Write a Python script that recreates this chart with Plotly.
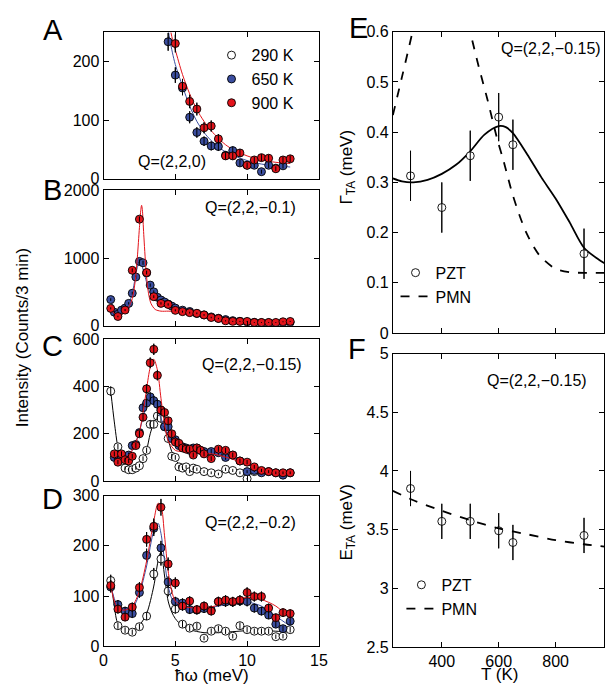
import plotly.graph_objects as go

# ---------------- data ----------------
# Panel A  Q=(2,2,0)
A_E_650 = [4.5, 5, 5.5, 6, 6.5, 7, 7.5, 8, 8.5, 9, 9.5, 10, 10.5, 11, 11.5, 12, 12.5]
A_I_650 = [234, 177, 155, 105, 79, 64, 56, 55, 40, 48, 27, 23, 23, 12, 23, 18, 22]
A_E_900 = [5, 5.5, 6, 6.5, 7, 7.5, 8, 8.5, 9, 9.5, 10, 10.5, 11, 11.5, 12, 12.5, 13]
A_I_900 = [231, 158, 132, 119, 87, 90, 68, 39, 39, 44, 23, 32, 36, 35, 17, 32, 34]
A_FIT_E = [4.4, 4.6, 4.8, 5.0, 5.5, 6, 6.5, 7, 7.5, 8, 8.5, 9, 10, 11, 12, 13]
A_FIT_650 = [272, 240, 215, 195, 158, 124, 98, 79, 65, 54, 46, 40, 31, 25, 22, 20]
A_FIT_900 = [300, 262, 238, 220, 178, 145, 118, 98, 82, 69, 58, 50, 39, 32, 28, 26]

# Panel B  Q=(2,2,-0.1)
B_E_650 = [0.5, 0.75, 1.0, 1.25, 1.5, 1.75, 2.0, 2.25, 2.5, 2.75, 3.0, 3.25, 3.5, 3.75, 4.0, 4.25,
           4.5, 4.75, 5.0, 5.5, 6.0, 6.5, 7.0, 7.5, 8.0, 8.5, 9.0, 9.5, 10, 10.5, 11, 11.5, 12, 12.5, 13]
B_I_650 = [386, 200, 170, 230, 260, 330, 480, 720, 950, 930, 780, 600, 500, 420, 380, 350,
           320, 290, 260, 230, 210, 180, 160, 130, 110, 90, 75, 65, 55, 50, 45, 45, 40, 45, 50]
B_E_900 = [0.5, 1, 1.5, 2, 2.5, 3, 3.5, 4, 4.5, 5, 5.5, 6, 6.5, 7, 7.5, 8, 8.5, 9, 9.5, 10,
           10.5, 11, 11.5, 12, 12.5, 13]
B_I_900 = [256, 136, 231, 819, 1575, 786, 429, 330, 314, 227, 208, 193, 183, 159, 121, 106,
           72, 63, 63, 63, 48, 48, 48, 48, 58, 63]
B_FIT_E = [0.5, 0.75, 1.0, 1.25, 1.5, 1.75, 2.0, 2.2, 2.35, 2.5, 2.6, 2.65, 2.7, 2.8, 2.95, 3.1,
           3.3, 3.6, 4.0, 4.5, 5, 6, 7, 8, 9, 10, 11, 12, 13]
B_FIT_650 = [380, 250, 190, 210, 250, 330, 480, 700, 860, 930, 920, 900, 870, 800, 680, 560,
             460, 390, 350, 310, 270, 210, 160, 120, 90, 65, 50, 45, 45]
B_FIT_900 = [240, 180, 150, 165, 200, 270, 400, 650, 1000, 1450, 1720, 1780, 1720, 1350, 850, 520,
             330, 240, 215, 215, 210, 185, 150, 110, 80, 62, 52, 47, 45]

# Panel C  Q=(2,2,-0.15)
C_E_290 = [0.5, 1.0, 1.25, 1.5, 1.75, 2.0, 2.25, 2.5, 2.75, 3.0, 3.25, 3.5, 3.75, 4.0, 4.25, 4.5,
           4.75, 5.0, 5.25, 5.5, 5.75, 6.0, 6.25, 6.5, 7.0, 7.5, 8.0, 8.5, 9.0, 9.5, 10.0, 10.5]
C_I_290 = [380, 145, 110, 55, 48, 48, 55, 65, 95, 130, 240, 240, 275, 265, 230, 180,
           105, 100, 60, 55, 60, 40, 55, 50, 40, 35, 30, 50, 45, 35, 10, 40]
C_E_HT = [0.75, 1.0, 1.25, 1.5, 1.75, 2.0, 2.25, 2.5, 2.75, 3.0, 3.25, 3.5, 3.75, 4.0, 4.25, 4.5,
          4.75, 5.0, 5.25, 5.5, 5.75, 6.0, 6.25, 6.5, 6.75, 7.0, 7.5, 8.0, 8.5, 9.0, 9.5, 10.0,
          10.5, 11, 11.5, 12, 12.5, 13]
C_I_650 = [100, 110, 100, 100, 110, 150, 155, 205, 310, 330, 356, 340, 325, 300, 230, 230,
           180, 175, 150, 145, 140, 130, 140, 140, 130, 125, 125, 120, 100, 110, 85, 40,
           45, 35, 40, 35, 25, 35]
C_I_900 = [115, 80, 115, 90, 85, 105, 150, 200, 270, 390, 500, 557, 447, 300, 290, 255,
           200, 165, 160, 140, 135, 135, 110, 140, 130, 115, 95, 135, 130, 110, 85, 80,
           60, 45, 40, 35, 35, 35]
C_FIT_E = [1.0, 1.5, 2.0, 2.5, 2.75, 3.0, 3.25, 3.5, 3.75, 4.0, 4.25, 4.5, 5.0, 5.5, 6.0, 7.0,
           8.0, 9.0, 10.0, 11.0, 12.0, 13.0]
C_FIT_650 = [100, 105, 130, 210, 270, 320, 345, 335, 305, 265, 230, 200, 160, 140, 135, 125,
             115, 95, 70, 50, 38, 30]
C_FIT_900 = [95, 100, 130, 210, 290, 390, 480, 515, 470, 350, 240, 170, 130, 125, 125, 120,
             110, 92, 72, 52, 38, 30]
C_FIT_E_290 = [0.5, 0.75, 1.0, 1.25, 1.5, 2.0, 2.5, 2.75, 3.0, 3.25, 3.5, 3.75, 4.0, 4.25, 4.5,
               4.75, 5.0, 5.5, 6.0, 7.0, 8.0, 9.0, 10.0, 10.5]
C_FIT_290 = [380, 250, 140, 75, 55, 48, 62, 85, 130, 200, 245, 268, 262, 230, 175,
             125, 90, 60, 50, 45, 40, 38, 36, 35]

# Panel D  Q=(2,2,-0.2)
D_E = [0.5, 1, 1.5, 2, 2.5, 3, 3.5, 4, 4.5, 5, 5.5, 6, 6.5, 7, 7.5, 8, 8.5, 9, 9.5, 10,
       10.5, 11, 11.5, 12, 12.5, 13]
D_I_290 = [131, 41, 32, 28, 39, 60, 144, 174, 110, 74, 44, 36, 40, 16, 30, 35, 30, 20, 41, 33,
           30, 30, 30, 19, 20, 33]
D_I_650 = [118, 83, 70, 65, 107, 181, 235, 196, 128, 89, 86, 73, 72, 75, 72, 89, 88, 88, 90, 89,
           76, 70, 62, 44, 35, 50]
D_I_900 = [121, 74, 58, 78, 117, 213, 239, 277, 164, 126, 80, 90, 73, 80, 70, 89, 92, 89, 92, 107,
           99, 99, 76, 57, 67, 65]
D_FIT_E = [0.5, 0.75, 1.0, 1.5, 2.0, 2.5, 3.0, 3.5, 3.8, 4.0, 4.25, 4.5, 4.75, 5.0, 5.5, 6.0,
           7.0, 8.0, 9.0, 10.0, 11.0, 12.0, 13.0]
D_FIT_290 = [135, 80, 45, 33, 33, 42, 65, 120, 170, 188, 140, 90, 68, 55, 40, 33,
             27, 27, 29, 31, 31, 30, 28]
D_FIT_650 = [120, 95, 78, 68, 75, 105, 160, 230, 245, 225, 170, 120, 95, 85, 78, 75,
             75, 80, 85, 88, 80, 60, 40]
D_FIT_900 = [120, 90, 75, 72, 80, 110, 170, 250, 285, 280, 220, 150, 110, 90, 80, 77,
             76, 82, 92, 97, 93, 80, 55]

# Panels E, F  (PZT data, PMN curves)
T_PZT = [290, 400, 500, 600, 650, 900]
GAMMA_PZT = [0.313, 0.250, 0.353, 0.430, 0.375, 0.158]
GAMMA_ERR = [0.05, 0.05, 0.05, 0.048, 0.05, 0.05]
ETA_PZT = [3.85, 3.57, 3.57, 3.49, 3.39, 3.45]
ETA_ERR = [0.15, 0.15, 0.15, 0.15, 0.15, 0.15]
GFIT_T = [228, 260, 300, 350, 400, 450, 500, 550, 600, 625, 650, 700, 750, 800, 850, 900, 950, 972]
GFIT = [0.308, 0.302, 0.300, 0.305, 0.317, 0.335, 0.362, 0.395, 0.412, 0.410, 0.398, 0.356,
        0.310, 0.268, 0.220, 0.170, 0.147, 0.139]
PMN_G_T = [228, 260, 297, 350, 400, 450, 500, 530, 560, 594, 617, 651, 697, 743, 800, 850, 900, 972]
PMN_G = [0.434, 0.51, 0.60, 0.74, 0.80, 0.74, 0.60, 0.53, 0.466, 0.388, 0.343, 0.272, 0.200,
         0.155, 0.128, 0.121, 0.12, 0.12]
PMN_E_T = [228, 300, 400, 500, 600, 700, 800, 900, 972]
PMN_E = [3.83, 3.75, 3.66, 3.58, 3.51, 3.46, 3.41, 3.375, 3.355]

# ---------------- styles ----------------
FONT = "Liberation Sans, Arial, Helvetica, sans-serif"
BLUE = "#3b4ea0"
RED = "#e3141b"
W, H = 614, 692


def px(x):
    return x / W


def py(y):
    return 1 - y / H


fig = go.Figure()


def add_points(E, I, color, ax, name=None, legend=None, open_=False, err=None):
    xa, ya = ax
    mk = dict(size=8, color="white" if open_ else color,
              line=dict(color="black", width=0.9))
    ey = dict(type="sqrt", color="black", thickness=1, width=0) if err is None else \
        dict(type="data", array=err, color="black", thickness=1, width=0)
    fig.add_trace(go.Scatter(x=E, y=I, mode="markers", marker=mk, xaxis=xa, yaxis=ya,
                             name=name, showlegend=legend is not None,
                             legend=legend if legend else "legend", error_y=ey))
    # error bars drawn on top of the symbols
    fig.add_trace(go.Scatter(x=E, y=I, mode="markers", marker=dict(size=1, opacity=0),
                             xaxis=xa, yaxis=ya, showlegend=False, hoverinfo="skip",
                             error_y=ey))


def add_fit(E, I, color, ax, dash="solid", width=1, name=None, legend=None):
    xa, ya = ax
    fig.add_trace(go.Scatter(x=E, y=I, mode="lines", xaxis=xa, yaxis=ya,
                             line=dict(color=color, width=width, dash=dash, shape="spline",
                                       smoothing=0.8),
                             name=name, showlegend=legend is not None,
                             legend=legend if legend else "legend", hoverinfo="skip"))


A = ("x", "y"); B = ("x2", "y2"); C = ("x3", "y3"); D = ("x4", "y4"); E_ = ("x5", "y5"); F_ = ("x6", "y6")

# legend entries for panel A
fig.add_trace(go.Scatter(x=[None], y=[None], mode="markers", xaxis="x", yaxis="y",
                         marker=dict(size=8, color="white", line=dict(color="black", width=0.9)),
                         name="290 K", legend="legend"))

# Panel A
add_fit(A_FIT_E, A_FIT_650, BLUE, A)
add_fit(A_FIT_E, A_FIT_900, RED, A)
add_points(A_E_650, A_I_650, BLUE, A, name="650 K", legend="legend")
add_points(A_E_900, A_I_900, RED, A, name="900 K", legend="legend")

# Panel B
add_fit(B_FIT_E, B_FIT_650, BLUE, B)
add_points(B_E_650, B_I_650, BLUE, B)
add_fit(B_FIT_E, B_FIT_900, RED, B)
add_points(B_E_900, B_I_900, RED, B)

# Panel C
add_fit(C_FIT_E_290, C_FIT_290, "black", C)
add_points(C_E_290, C_I_290, "black", C, open_=True)
add_fit(C_FIT_E, C_FIT_650, BLUE, C)
add_points(C_E_HT, C_I_650, BLUE, C)
add_fit(C_FIT_E, C_FIT_900, RED, C)
add_points(C_E_HT, C_I_900, RED, C)

# Panel D
add_fit(D_FIT_E, D_FIT_290, "black", D)
add_points(D_E, D_I_290, "black", D, open_=True)
add_fit(D_FIT_E, D_FIT_650, BLUE, D)
add_points(D_E, D_I_650, BLUE, D)
add_fit(D_FIT_E, D_FIT_900, RED, D)
add_points(D_E, D_I_900, RED, D)

# Panel E
add_fit(GFIT_T, GFIT, "black", E_, width=1.8)
add_points(T_PZT, GAMMA_PZT, "black", E_, open_=True, err=GAMMA_ERR, name="PZT", legend="legend2")
add_fit(PMN_G_T, PMN_G, "black", E_, dash="dash", width=1.8, name="PMN", legend="legend2")

# Panel F
add_points(T_PZT, ETA_PZT, "black", F_, open_=True, err=ETA_ERR, name="PZT", legend="legend3")
add_fit(PMN_E_T, PMN_E, "black", F_, dash="dash", width=1.8, name="PMN", legend="legend3")

# ---------------- axes ----------------
base = dict(showline=True, linecolor="black", linewidth=1, mirror="ticks", ticks="inside",
            ticklen=5, tickcolor="black", showgrid=False, zeroline=False,
            tickfont=dict(size=16, color="black", family=FONT))

LX = [px(101.7), px(321.7)]
RX = [px(397.3), px(613.2)]
dom = {
    "A": [py(175), py(25)],
    "B": [py(325.7), py(187)],
    "C": [py(485), py(339.5)],
    "D": [py(654.3), py(500)],
    "E": [py(333.3), py(24.3)],
    "F": [py(655), py(354.3)],
}

xl = dict(base, range=[0, 15], tickvals=[0, 5, 10, 15], domain=LX)
xr = dict(base, range=[228, 971], tickvals=[400, 600, 800], domain=RX)

fig.update_layout(
    xaxis=dict(xl, anchor="y", showticklabels=False),
    yaxis=dict(base, anchor="x", domain=dom["A"], range=[0, 250], tickvals=[0, 100, 200]),
    xaxis2=dict(xl, anchor="y2", showticklabels=False),
    yaxis2=dict(base, anchor="x2", domain=dom["B"], range=[0, 2000], tickvals=[0, 1000, 2000]),
    xaxis3=dict(xl, anchor="y3", showticklabels=False),
    yaxis3=dict(base, anchor="x3", domain=dom["C"], range=[0, 600], tickvals=[0, 200, 400, 600]),
    xaxis4=dict(xl, anchor="y4", showticklabels=True),
    yaxis4=dict(base, anchor="x4", domain=dom["D"], range=[0, 300], tickvals=[0, 100, 200, 300]),
    xaxis5=dict(xr, anchor="y5", showticklabels=False),
    yaxis5=dict(base, anchor="x5", domain=dom["E"], range=[0, 0.6],
                tickvals=[0, 0.1, 0.2, 0.3, 0.4, 0.5, 0.6], ticktext=["0", "0.1", "0.2", "0.3", "0.4", "0.5", "0.6"]),
    xaxis6=dict(xr, anchor="y6", showticklabels=True),
    yaxis6=dict(base, anchor="x6", domain=dom["F"], range=[2.5, 5],
                tickvals=[2.5, 3, 3.5, 4, 4.5, 5], ticktext=["2.5", "3", "3.5", "4", "4.5", "5"]),
)

leg = dict(bgcolor="rgba(0,0,0,0)", borderwidth=0, font=dict(size=16, color="black", family=FONT),
           xanchor="left", yanchor="top", tracegroupgap=0, itemwidth=30)
fig.update_layout(
    legend=dict(leg, x=px(212), y=py(31)),
    legend2=dict(leg, x=px(400), y=py(254)),
    legend3=dict(leg, x=px(406), y=py(574)),
)

# ---------------- annotations ----------------
ann = []


def text(x, y, s, size=16, xanchor="left", angle=0):
    ann.append(dict(x=px(x), y=py(y), xref="paper", yref="paper", text=s, showarrow=False,
                    xanchor=xanchor, yanchor="middle", textangle=angle,
                    font=dict(size=size, color="black", family=FONT)))


text(50, 23, "A", size=29, xanchor="center")
text(50, 187, "B", size=29, xanchor="center")
text(50, 347, "C", size=29, xanchor="center")
text(50, 503, "D", size=29, xanchor="center")
text(362, 20, "E", size=29, xanchor="center")
text(361, 350, "F", size=29, xanchor="center")

text(135, 157, "Q=(2,2,0)")
text(203, 205, "Q=(2,2,\u22120.1)")
text(200, 365, "Q=(2,2,\u22120.15)")
text(203, 527, "Q=(2,2,\u22120.2)")
text(506, 42, "Q=(2,2,\u22120.15)")
text(491, 382, "Q=(2,2,\u22120.15)")

text(19, 338, "Intensity (Counts/3 min)", size=17, xanchor="center", angle=-90)
text(212, 684, "\u0127\u03c9 (meV)", size=17, xanchor="center")
text(351, 163, "\u0393<sub>TA</sub> (meV)", size=17, xanchor="center", angle=-90)
text(351, 527, "E<sub>TA</sub> (meV)", size=17, xanchor="center", angle=-90)
text(506, 683, "T (K)", size=17, xanchor="center")

fig.update_layout(
    annotations=ann,
    width=W, height=H, margin=dict(l=0, r=0, t=0, b=0),
    paper_bgcolor="white", plot_bgcolor="white",
    font=dict(family=FONT, color="black"),
)

fig.write_html("out.html")
